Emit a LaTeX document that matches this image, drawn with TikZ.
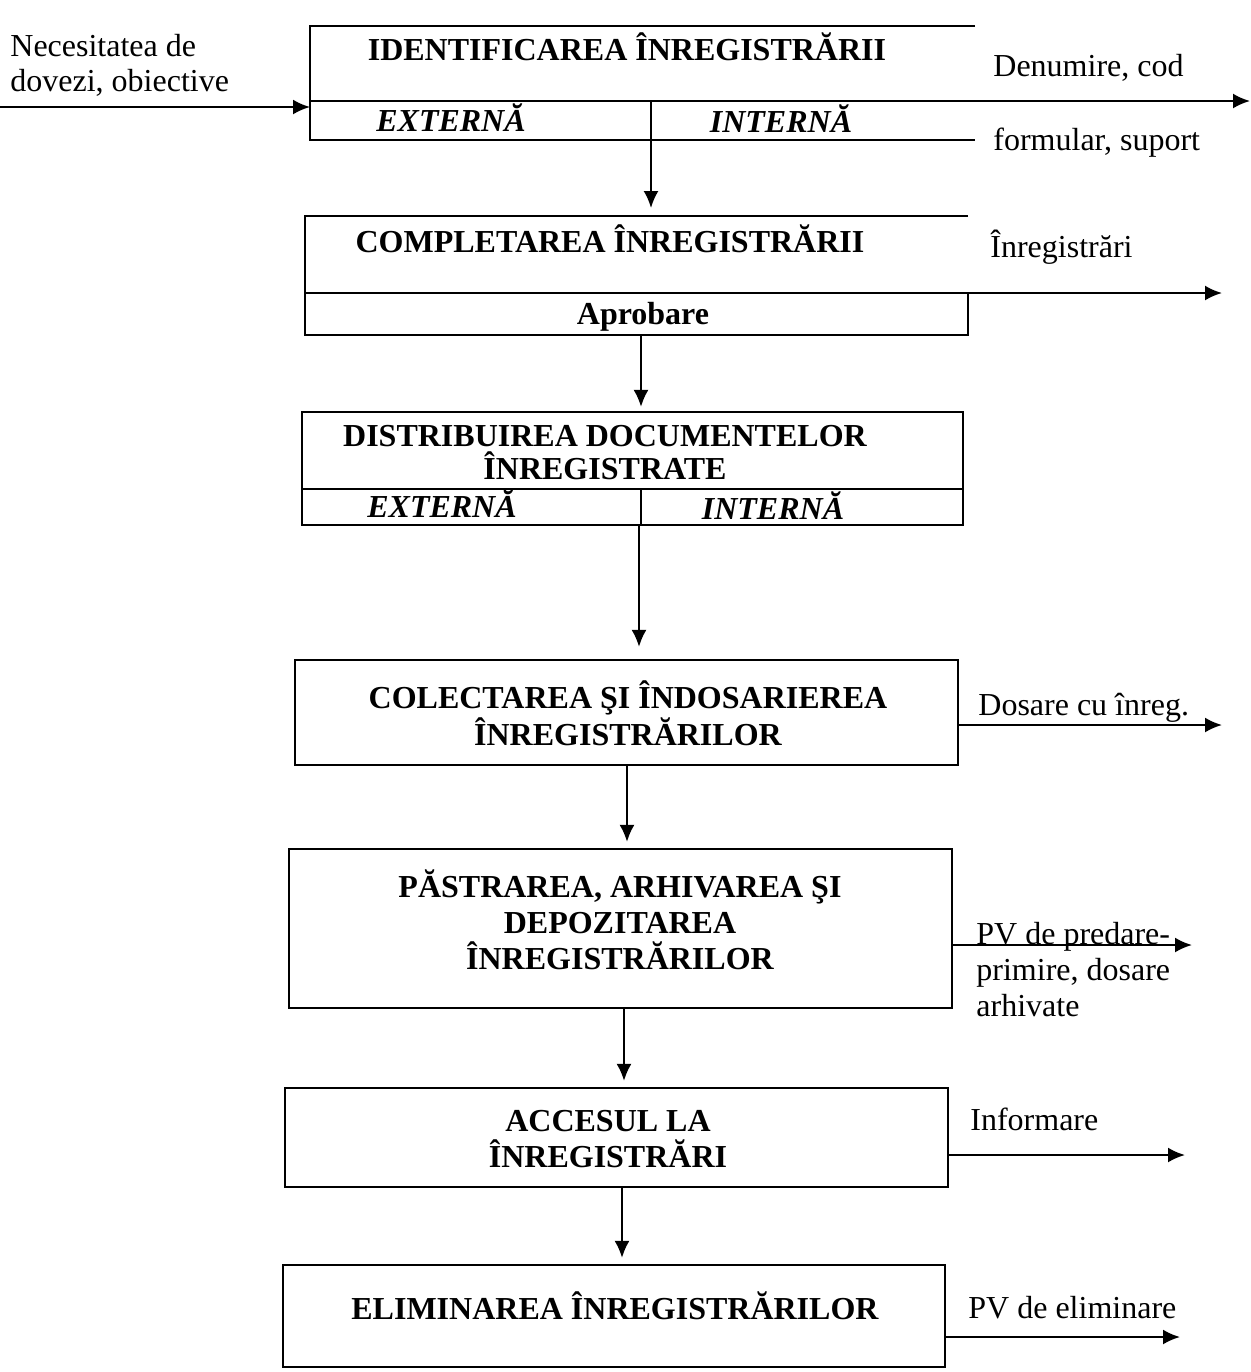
\documentclass[tikz,border=0pt]{standalone}
\usepackage{fontspec}
\setmainfont{Liberation Serif}
\usetikzlibrary{arrows.meta}
\begin{document}
\begin{tikzpicture}[x=0.5pt,y=-0.5pt,
  ln/.style={line width=1.1pt},
  arr/.style={line width=1.1pt,-{Latex[length=8.5pt,width=7.5pt]}},
  ttl/.style={font=\fontsize{16}{18}\selectfont\bfseries, align=center, inner sep=0pt, anchor=base},
  sub/.style={font=\fontsize{16}{18}\selectfont\bfseries\itshape, inner sep=0pt, anchor=base},
  lbl/.style={font=\fontsize{16}{17.5}\selectfont, align=left, inner sep=0pt, anchor=base west},
  boxr/.style={draw, line width=1.1pt, inner sep=0pt}]
\useasboundingbox (0,0) rectangle (1251,1372);

% ---------- Box 1 : identificarea ----------
\coordinate (b1tr) at (975,26);
\coordinate (b1tl) at (310,26);
\coordinate (b1bl) at (310,140);
\coordinate (b1br) at (975,140);
\coordinate (b1ml) at (310,101);
\coordinate (b1mr) at (975,101);
\coordinate (b1dt) at (651,101);
\coordinate (b1db) at (651,140);
\draw[ln] (b1tr) -- (b1tl) -- (b1bl) -- (b1br);
\draw[ln] (b1ml) -- (b1mr);
\draw[ln] (b1dt) -- (b1db);
\node[ttl] (t1) at (627,60) {IDENTIFICAREA ÎNREGISTRĂRII};
\node[sub] (e1) at (451,131) {EXTERNĂ};
\node[sub] (i1) at (781,132) {INTERNĂ};
\node[lbl] (in1) at (10,91) {Necesitatea de\\dovezi, obiective};
\coordinate (src1) at (0,107);
\coordinate (b1in) at (310,107);
\draw[arr] (src1) -- (b1in);
\coordinate (o1) at (1250,101);
\draw[arr] (b1mr) -- (o1);
\node[lbl] (l1a) at (993,76) {Denumire, cod};
\node[lbl] (l1b) at (993,150) {formular, suport};

% ---------- Box 2 : completarea ----------
\coordinate (b2tr) at (968,216);
\coordinate (b2tl) at (305,216);
\coordinate (b2bl) at (305,335);
\coordinate (b2br) at (968,335);
\coordinate (b2mr) at (968,293);
\coordinate (b2ml) at (305,293);
\draw[ln] (b2tr) -- (b2tl) -- (b2bl) -- (b2br) -- (b2mr) -- (b2ml);
\coordinate (b2top) at (651,216);
\draw[arr, shorten >=4pt] (b1db) -- (b2top);
\node[ttl] (t2) at (610,252) {COMPLETAREA ÎNREGISTRĂRII};
\node[ttl] (ap2) at (643,324) {Aprobare};
\node[lbl] (l2) at (990,257) {Înregistrări};
\coordinate (o2) at (1222,293);
\draw[arr] (b2mr) -- (o2);

% ---------- Box 3 : distribuirea ----------
\node[boxr, minimum width=330.5pt, minimum height=56.5pt] (b3) at (632.5,468.5) {};
\coordinate (b3ml) at (302,489);
\coordinate (b3mr) at (963,489);
\coordinate (b3dt) at (641,489);
\coordinate (b3db) at (641,525);
\draw[ln] (b3ml) -- (b3mr);
\draw[ln] (b3dt) -- (b3db);
\coordinate (x23) at (641,0);
\draw[arr, shorten >=2pt] (b2bl -| x23) -- (b3.north -| x23);
\node[ttl, font=\fontsize{16}{16.5}\selectfont\bfseries] (t3) at (605,479) {DISTRIBUIREA DOCUMENTELOR\\ÎNREGISTRATE};
\node[sub] (e3) at (442,517) {EXTERNĂ};
\node[sub] (i3) at (773,519) {INTERNĂ};

% ---------- Box 4 : colectarea ----------
\node[boxr, minimum width=331.5pt, minimum height=52.5pt] (b4) at (626.5,712.5) {};
\coordinate (x34) at (639,0);
\draw[arr, shorten >=6pt] (b3.south -| x34) -- (b4.north -| x34);
\node[ttl, font=\fontsize{16}{18.5}\selectfont\bfseries] (t4) at (628,745) {COLECTAREA ŞI ÎNDOSARIEREA\\ÎNREGISTRĂRILOR};
\coordinate (y4) at (0,725);
\coordinate (o4) at (1222,725);
\draw[arr] (b4.east |- y4) -- (o4);
\node[lbl] (l4) at (978,715) {Dosare cu înreg.};

% ---------- Box 5 : pastrarea ----------
\node[boxr, minimum width=331.5pt, minimum height=79.5pt] (b5) at (620.5,928.5) {};
\coordinate (x45) at (627,0);
\draw[arr, shorten >=3pt] (b4.south -| x45) -- (b5.north -| x45);
\node[ttl] (t5) at (620,969) {PĂSTRAREA, ARHIVAREA ŞI\\DEPOZITAREA\\ÎNREGISTRĂRILOR};
\coordinate (y5) at (0,945);
\coordinate (o5) at (1192,945);
\draw[arr] (b5.east |- y5) -- (o5);
\node[lbl, font=\fontsize{16}{18}\selectfont] (l5) at (976,1016) {PV de predare-\\primire, dosare\\arhivate};

% ---------- Box 6 : accesul ----------
\node[boxr, minimum width=331.5pt, minimum height=49.5pt] (b6) at (616.5,1137.5) {};
\coordinate (x56) at (624,0);
\draw[arr, shorten >=3pt] (b5.south -| x56) -- (b6.north -| x56);
\node[ttl] (t6) at (608,1167) {ACCESUL LA\\ÎNREGISTRĂRI};
\coordinate (y6) at (0,1155);
\coordinate (o6) at (1185,1155);
\draw[arr] (b6.east |- y6) -- (o6);
\node[lbl] (l6) at (970,1130) {Informare};

% ---------- Box 7 : eliminarea ----------
\node[boxr, minimum width=331pt, minimum height=51pt] (b7) at (614,1316) {};
\coordinate (x67) at (622,0);
\draw[arr, shorten >=3pt] (b6.south -| x67) -- (b7.north -| x67);
\node[ttl] (t7) at (615,1319) {ELIMINAREA ÎNREGISTRĂRILOR};
\coordinate (y7) at (0,1337);
\coordinate (o7) at (1180,1337);
\draw[arr] (b7.east |- y7) -- (o7);
\node[lbl] (l7) at (968,1318) {PV de eliminare};
\end{tikzpicture}
\end{document}
